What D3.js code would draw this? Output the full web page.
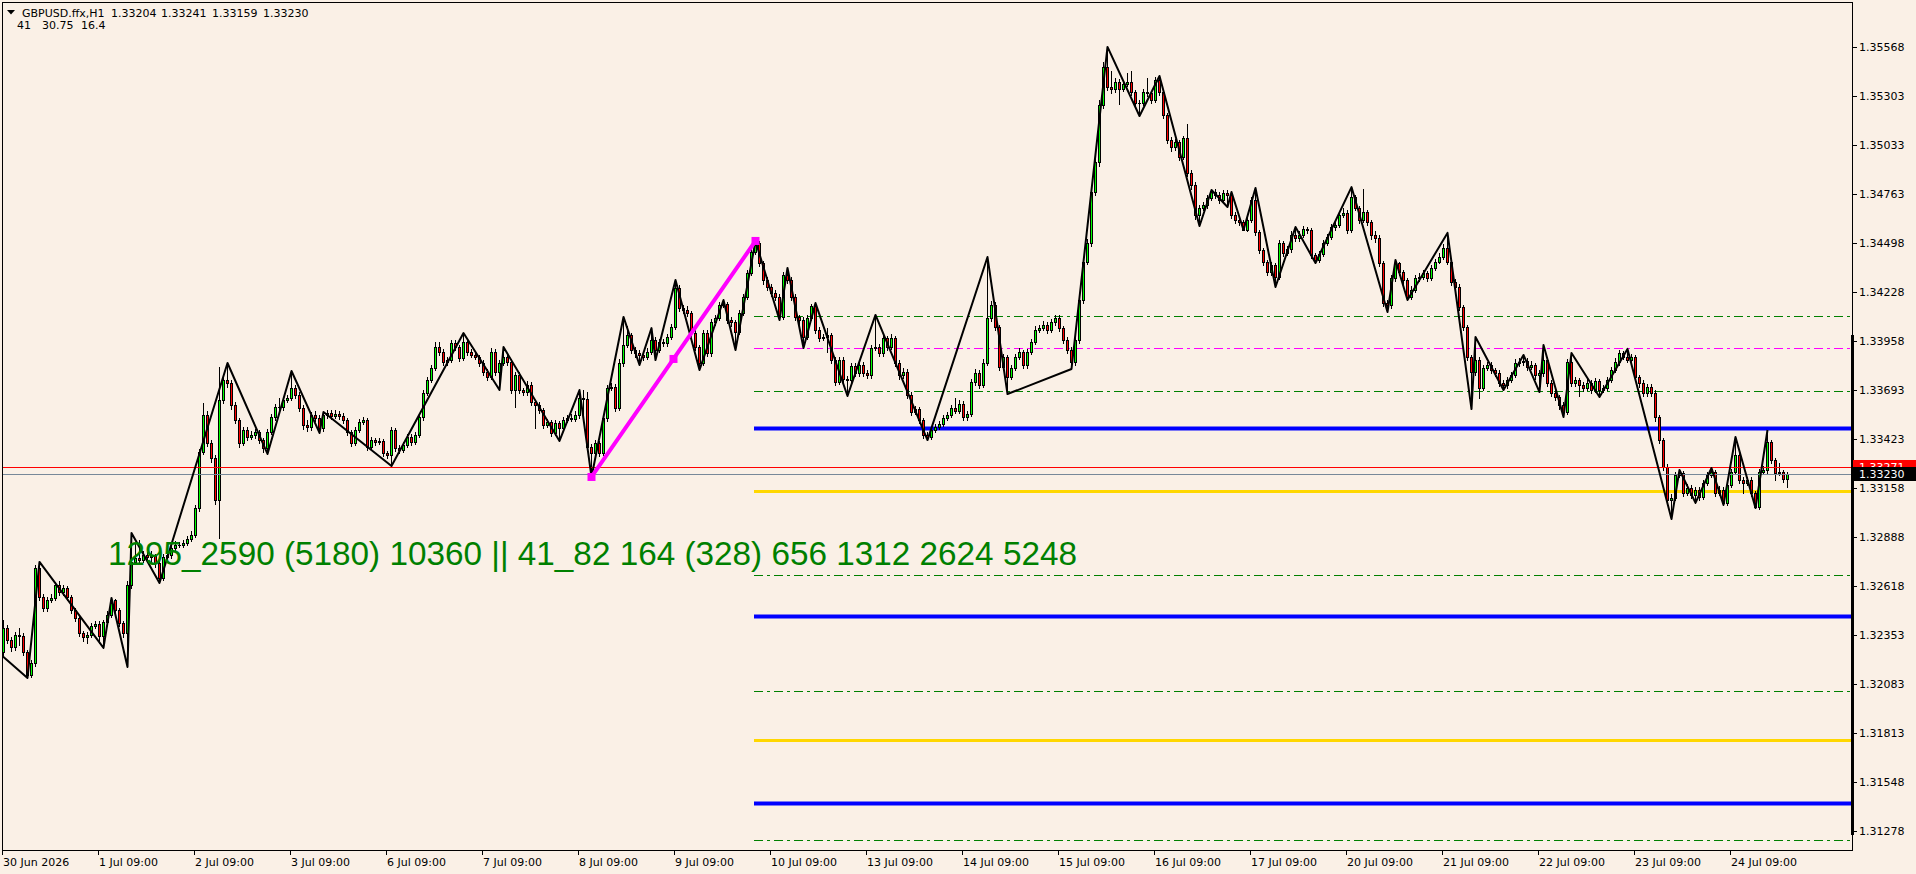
<!DOCTYPE html>
<html><head><meta charset="utf-8">
<script src="https://cdn.jsdelivr.net/npm/d3@7/dist/d3.min.js"></script>
<style>
html,body{margin:0;padding:0;background:#FAF0E6;overflow:hidden}
svg{display:block}
</style></head><body>
<svg id="c" width="1916" height="874"></svg>
<script>
// ---------------- DATA (GBPUSD.ffx, H1) ----------------
const close = [
1.32389,1.32324,1.32285,1.32351,1.32346,1.32258,1.32132,1.32198,1.32718,1.32559,1.32499,1.32543,
1.32554,1.32625,1.32586,1.32608,1.32559,1.32488,1.32444,1.32362,1.32340,1.32351,1.32400,1.32411,
1.32346,1.32422,1.32460,1.32543,1.32488,1.32417,1.32362,1.32625,1.32751,1.32772,1.32762,1.32789,
1.32778,1.32783,1.32745,1.32663,1.32778,1.32789,1.32827,1.32844,1.32844,1.32855,1.32876,1.32898,
1.33046,1.33353,1.33555,1.33402,1.33320,1.33090,1.33637,1.33747,1.33730,1.33610,1.33528,1.33402,
1.33473,1.33435,1.33446,1.33462,1.33418,1.33375,1.33462,1.33544,1.33599,1.33599,1.33637,1.33648,
1.33703,1.33665,1.33594,1.33500,1.33490,1.33555,1.33539,1.33484,1.33555,1.33566,1.33550,1.33561,
1.33550,1.33528,1.33462,1.33402,1.33473,1.33517,1.33528,1.33380,1.33418,1.33407,1.33413,1.33347,
1.33336,1.33473,1.33375,1.33364,1.33391,1.33435,1.33407,1.33446,1.33544,1.33676,1.33747,1.33813,
1.33927,1.33900,1.33845,1.33856,1.33949,1.33927,1.33867,1.33955,1.33900,1.33884,1.33873,1.33840,
1.33791,1.33763,1.33900,1.33791,1.33840,1.33873,1.33845,1.33692,1.33774,1.33692,1.33681,1.33720,
1.33626,1.33610,1.33583,1.33500,1.33517,1.33457,1.33511,1.33484,1.33528,1.33539,1.33533,1.33555,
1.33648,1.33643,1.33380,1.33347,1.33402,1.33347,1.33539,1.33703,1.33709,1.33594,1.33840,1.33938,
1.33993,1.33911,1.33895,1.33884,1.33873,1.33900,1.33966,1.33911,1.33955,1.33949,1.33982,1.34037,
1.34251,1.34141,1.34130,1.34114,1.34004,1.33927,1.33840,1.34004,1.33895,1.34064,1.34086,1.34157,
1.34163,1.34075,1.34064,1.34010,1.34114,1.34201,1.34333,1.34448,1.34497,1.34387,1.34294,1.34256,
1.34223,1.34201,1.34092,1.34322,1.34294,1.34201,1.34092,1.34075,1.33982,1.34086,1.34152,1.34021,
1.33977,1.33982,1.33993,1.33856,1.33736,1.33856,1.33752,1.33747,1.33824,1.33785,1.33829,1.33785,
1.33774,1.33922,1.33927,1.33895,1.33977,1.33927,1.33977,1.33840,1.33774,1.33791,1.33665,1.33572,
1.33588,1.33528,1.33446,1.33435,1.33473,1.33490,1.33506,1.33539,1.33555,1.33594,1.33577,1.33616,
1.33544,1.33561,1.33736,1.33785,1.33720,1.33840,1.34086,1.34157,1.34037,1.33818,1.33873,1.33763,
1.33813,1.33873,1.33900,1.33829,1.33900,1.33955,1.34021,1.34031,1.34048,1.34021,1.34064,1.34086,
1.34031,1.33966,1.33911,1.33845,1.33966,1.34185,1.34393,1.34497,1.34776,1.34940,1.35252,1.35460,
1.35351,1.35340,1.35378,1.35340,1.35367,1.35378,1.35323,1.35263,1.35263,1.35323,1.35318,1.35280,
1.35389,1.35323,1.35198,1.35061,1.35022,1.35050,1.34968,1.35072,1.34880,1.34814,1.34650,1.34688,
1.34705,1.34743,1.34776,1.34760,1.34732,1.34770,1.34760,1.34650,1.34623,1.34612,1.34568,1.34623,
1.34732,1.34557,1.34459,1.34393,1.34338,1.34376,1.34311,1.34497,1.34442,1.34464,1.34541,1.34524,
1.34541,1.34574,1.34568,1.34431,1.34404,1.34437,1.34497,1.34530,1.34584,1.34595,1.34650,1.34661,
1.34568,1.34749,1.34688,1.34623,1.34667,1.34612,1.34541,1.34524,1.34387,1.34168,1.34157,1.34305,
1.34387,1.34338,1.34294,1.34201,1.34240,1.34305,1.34311,1.34333,1.34305,1.34360,1.34393,1.34420,
1.34469,1.34393,1.34283,1.34256,1.34147,1.34037,1.33873,1.33791,1.33856,1.33703,1.33813,1.33829,
1.33802,1.33785,1.33730,1.33720,1.33747,1.33774,1.33840,1.33845,1.33851,1.33818,1.33829,1.33774,
1.33785,1.33856,1.33730,1.33676,1.33654,1.33610,1.33572,1.33845,1.33730,1.33747,1.33720,1.33703,
1.33730,1.33692,1.33741,1.33692,1.33703,1.33747,1.33802,1.33845,1.33895,1.33873,1.33856,1.33873,
1.33763,1.33730,1.33676,1.33709,1.33676,1.33544,1.33418,1.33271,1.33090,1.33101,1.33227,1.33238,
1.33128,1.33156,1.33117,1.33145,1.33106,1.33183,1.33227,1.33243,1.33128,1.33145,1.33074,1.33172,
1.33243,1.33336,1.33200,1.33183,1.33200,1.33128,1.33052,1.33243,1.33254,1.33407,1.33309,1.33238,
1.33243,1.33204,1.33230];

const open = [
1.32258,1.32389,1.32324,1.32285,1.32351,1.32346,1.32258,1.32132,1.32198,1.32718,1.32559,1.32499,
1.32543,1.32554,1.32625,1.32586,1.32608,1.32559,1.32488,1.32444,1.32362,1.32340,1.32351,1.32400,
1.32411,1.32346,1.32422,1.32460,1.32543,1.32488,1.32417,1.32362,1.32625,1.32751,1.32772,1.32762,
1.32789,1.32778,1.32783,1.32745,1.32663,1.32778,1.32789,1.32827,1.32844,1.32844,1.32855,1.32876,
1.32898,1.33046,1.33353,1.33555,1.33402,1.33320,1.33090,1.33637,1.33747,1.33730,1.33610,1.33528,
1.33402,1.33473,1.33435,1.33446,1.33462,1.33418,1.33375,1.33462,1.33544,1.33599,1.33599,1.33637,
1.33648,1.33703,1.33665,1.33594,1.33500,1.33490,1.33555,1.33539,1.33484,1.33555,1.33566,1.33550,
1.33561,1.33550,1.33528,1.33462,1.33402,1.33473,1.33517,1.33528,1.33380,1.33418,1.33407,1.33413,
1.33347,1.33336,1.33473,1.33375,1.33364,1.33391,1.33435,1.33407,1.33446,1.33544,1.33676,1.33747,
1.33813,1.33927,1.33900,1.33845,1.33856,1.33949,1.33927,1.33867,1.33955,1.33900,1.33884,1.33873,
1.33840,1.33791,1.33763,1.33900,1.33791,1.33840,1.33873,1.33845,1.33692,1.33774,1.33692,1.33681,
1.33720,1.33626,1.33610,1.33583,1.33500,1.33517,1.33457,1.33511,1.33484,1.33528,1.33539,1.33533,
1.33555,1.33648,1.33643,1.33380,1.33347,1.33402,1.33347,1.33539,1.33703,1.33709,1.33594,1.33840,
1.33938,1.33993,1.33911,1.33895,1.33884,1.33873,1.33900,1.33966,1.33911,1.33955,1.33949,1.33982,
1.34037,1.34251,1.34141,1.34130,1.34114,1.34004,1.33927,1.33840,1.34004,1.33895,1.34064,1.34086,
1.34157,1.34163,1.34075,1.34064,1.34010,1.34114,1.34201,1.34333,1.34448,1.34497,1.34387,1.34294,
1.34256,1.34223,1.34201,1.34092,1.34322,1.34294,1.34201,1.34092,1.34075,1.33982,1.34086,1.34152,
1.34021,1.33977,1.33982,1.33993,1.33856,1.33736,1.33856,1.33752,1.33747,1.33824,1.33785,1.33829,
1.33785,1.33774,1.33922,1.33927,1.33895,1.33977,1.33927,1.33977,1.33840,1.33774,1.33791,1.33665,
1.33572,1.33588,1.33528,1.33446,1.33435,1.33473,1.33490,1.33506,1.33539,1.33555,1.33594,1.33577,
1.33616,1.33544,1.33561,1.33736,1.33785,1.33720,1.33840,1.34086,1.34157,1.34037,1.33818,1.33873,
1.33763,1.33813,1.33873,1.33900,1.33829,1.33900,1.33955,1.34021,1.34031,1.34048,1.34021,1.34064,
1.34086,1.34031,1.33966,1.33911,1.33845,1.33966,1.34185,1.34393,1.34497,1.34776,1.34940,1.35252,
1.35460,1.35351,1.35340,1.35378,1.35340,1.35367,1.35378,1.35323,1.35263,1.35263,1.35323,1.35318,
1.35280,1.35389,1.35323,1.35198,1.35061,1.35022,1.35050,1.34968,1.35072,1.34880,1.34814,1.34650,
1.34688,1.34705,1.34743,1.34776,1.34760,1.34732,1.34770,1.34760,1.34650,1.34623,1.34612,1.34568,
1.34623,1.34732,1.34557,1.34459,1.34393,1.34338,1.34376,1.34311,1.34497,1.34442,1.34464,1.34541,
1.34524,1.34541,1.34574,1.34568,1.34431,1.34404,1.34437,1.34497,1.34530,1.34584,1.34595,1.34650,
1.34661,1.34568,1.34749,1.34688,1.34623,1.34667,1.34612,1.34541,1.34524,1.34387,1.34168,1.34157,
1.34305,1.34387,1.34338,1.34294,1.34201,1.34240,1.34305,1.34311,1.34333,1.34305,1.34360,1.34393,
1.34420,1.34469,1.34393,1.34283,1.34256,1.34147,1.34037,1.33873,1.33791,1.33856,1.33703,1.33813,
1.33829,1.33802,1.33785,1.33730,1.33720,1.33747,1.33774,1.33840,1.33845,1.33851,1.33818,1.33829,
1.33774,1.33785,1.33856,1.33730,1.33676,1.33654,1.33610,1.33572,1.33845,1.33730,1.33747,1.33720,
1.33703,1.33730,1.33692,1.33741,1.33692,1.33703,1.33747,1.33802,1.33845,1.33895,1.33873,1.33856,
1.33873,1.33763,1.33730,1.33676,1.33709,1.33676,1.33544,1.33418,1.33271,1.33090,1.33101,1.33227,
1.33238,1.33128,1.33156,1.33117,1.33145,1.33106,1.33183,1.33227,1.33243,1.33128,1.33145,1.33074,
1.33172,1.33243,1.33336,1.33200,1.33183,1.33200,1.33128,1.33052,1.33243,1.33254,1.33407,1.33309,
1.33238,1.33243,1.33204];

const high = [
1.32433,1.32405,1.32340,1.32370,1.32389,1.32362,1.32270,1.32215,1.32735,1.32751,1.32575,1.32560,
1.32575,1.32640,1.32645,1.32625,1.32620,1.32570,1.32500,1.32460,1.32375,1.32370,1.32415,1.32430,
1.32425,1.32435,1.32480,1.32554,1.32550,1.32500,1.32425,1.32645,1.32909,1.32850,1.32871,1.32810,
1.32805,1.32810,1.32795,1.32760,1.32795,1.32810,1.32845,1.32865,1.32860,1.32870,1.32895,1.32920,
1.33065,1.33370,1.33621,1.33575,1.33420,1.33335,1.33818,1.33780,1.33840,1.33745,1.33625,1.33540,
1.33490,1.33490,1.33470,1.33480,1.33475,1.33430,1.33480,1.33560,1.33615,1.33650,1.33655,1.33665,
1.33796,1.33720,1.33680,1.33610,1.33530,1.33570,1.33575,1.33555,1.33572,1.33585,1.33580,1.33580,
1.33575,1.33565,1.33540,1.33475,1.33490,1.33535,1.33545,1.33540,1.33435,1.33430,1.33430,1.33425,
1.33360,1.33490,1.33485,1.33390,1.33410,1.33450,1.33450,1.33460,1.33560,1.33690,1.33765,1.33830,
1.33955,1.33955,1.33915,1.33875,1.33965,1.33965,1.33940,1.34004,1.33970,1.33915,1.33900,1.33885,
1.33855,1.33805,1.33920,1.33915,1.33855,1.33927,1.33890,1.33860,1.33790,1.33790,1.33705,1.33740,
1.33735,1.33640,1.33625,1.33595,1.33535,1.33530,1.33530,1.33525,1.33545,1.33555,1.33560,1.33575,
1.33692,1.33692,1.33681,1.33395,1.33420,1.33415,1.33555,1.33720,1.33730,1.33725,1.33860,1.34092,
1.34040,1.34005,1.33925,1.33910,1.33900,1.33920,1.34031,1.33980,1.33970,1.33970,1.34000,1.34055,
1.34294,1.34265,1.34160,1.34150,1.34125,1.34020,1.33940,1.34020,1.34020,1.34080,1.34105,1.34175,
1.34185,1.34175,1.34090,1.34075,1.34130,1.34220,1.34350,1.34465,1.34508,1.34505,1.34400,1.34310,
1.34270,1.34240,1.34215,1.34340,1.34360,1.34310,1.34215,1.34105,1.34090,1.34100,1.34165,1.34168,
1.34035,1.34000,1.34030,1.34005,1.33870,1.33870,1.33870,1.33770,1.33840,1.33840,1.33845,1.33845,
1.33800,1.33940,1.34103,1.33945,1.33995,1.33990,1.34000,1.33990,1.33855,1.33810,1.33805,1.33680,
1.33605,1.33600,1.33540,1.33460,1.33490,1.33505,1.33525,1.33555,1.33570,1.33610,1.33650,1.33635,
1.33630,1.33575,1.33755,1.33805,1.33800,1.33860,1.34420,1.34180,1.34175,1.34050,1.33890,1.33885,
1.33830,1.33890,1.33920,1.33910,1.33915,1.33970,1.34040,1.34050,1.34070,1.34065,1.34080,1.34105,
1.34100,1.34045,1.33980,1.33925,1.33985,1.34205,1.34410,1.34520,1.34800,1.34970,1.35280,1.35490,
1.35570,1.35440,1.35400,1.35395,1.35385,1.35430,1.35440,1.35335,1.35280,1.35340,1.35400,1.35330,
1.35405,1.35411,1.35335,1.35210,1.35075,1.35065,1.35062,1.35085,1.35150,1.34895,1.34830,1.34705,
1.34720,1.34760,1.34787,1.34790,1.34775,1.34785,1.34785,1.34776,1.34665,1.34635,1.34625,1.34640,
1.34750,1.34798,1.34570,1.34470,1.34405,1.34395,1.34390,1.34515,1.34510,1.34480,1.34560,1.34584,
1.34560,1.34590,1.34585,1.34580,1.34440,1.34455,1.34515,1.34545,1.34600,1.34610,1.34665,1.34690,
1.34675,1.34803,1.34760,1.34700,1.34790,1.34680,1.34625,1.34560,1.34540,1.34400,1.34185,1.34320,
1.34404,1.34395,1.34350,1.34305,1.34260,1.34320,1.34330,1.34350,1.34345,1.34375,1.34410,1.34440,
1.34490,1.34552,1.34405,1.34300,1.34270,1.34160,1.34050,1.33885,1.33982,1.33870,1.33830,1.33845,
1.33845,1.33815,1.33800,1.33745,1.33765,1.33790,1.33860,1.33865,1.33884,1.33865,1.33850,1.33840,
1.33800,1.33938,1.33870,1.33745,1.33690,1.33665,1.33625,1.33860,1.33895,1.33765,1.33760,1.33735,
1.33750,1.33745,1.33760,1.33755,1.33720,1.33765,1.33820,1.33865,1.33910,1.33905,1.33917,1.33890,
1.33885,1.33775,1.33745,1.33725,1.33725,1.33690,1.33555,1.33430,1.33285,1.33125,1.33245,1.33254,
1.33250,1.33175,1.33170,1.33160,1.33160,1.33200,1.33245,1.33265,1.33255,1.33165,1.33160,1.33190,
1.33260,1.33435,1.33350,1.33215,1.33215,1.33215,1.33140,1.33260,1.33275,1.33473,1.33420,1.33320,
1.33290,1.33255,1.33241];

const low = [
1.32231,1.32308,1.32265,1.32270,1.32296,1.32240,1.32116,1.32120,1.32181,1.32540,1.32480,1.32485,
1.32530,1.32540,1.32570,1.32570,1.32545,1.32470,1.32425,1.32345,1.32320,1.32307,1.32340,1.32390,
1.32307,1.32280,1.32410,1.32450,1.32470,1.32400,1.32340,1.32176,1.32610,1.32740,1.32745,1.32750,
1.32760,1.32755,1.32725,1.32636,1.32650,1.32765,1.32775,1.32815,1.32830,1.32835,1.32845,1.32865,
1.32885,1.33030,1.33340,1.33385,1.33300,1.33070,1.32882,1.33620,1.33710,1.33590,1.33510,1.33380,
1.33390,1.33420,1.33425,1.33430,1.33400,1.33355,1.33342,1.33450,1.33530,1.33585,1.33585,1.33625,
1.33635,1.33650,1.33575,1.33480,1.33470,1.33475,1.33520,1.33457,1.33470,1.33540,1.33535,1.33540,
1.33535,1.33510,1.33445,1.33385,1.33390,1.33460,1.33505,1.33365,1.33365,1.33390,1.33395,1.33330,
1.33320,1.33276,1.33360,1.33345,1.33350,1.33380,1.33390,1.33395,1.33435,1.33530,1.33665,1.33735,
1.33800,1.33885,1.33830,1.33830,1.33845,1.33910,1.33850,1.33855,1.33885,1.33870,1.33860,1.33825,
1.33775,1.33745,1.33750,1.33775,1.33692,1.33830,1.33830,1.33675,1.33599,1.33675,1.33665,1.33665,
1.33610,1.33484,1.33565,1.33485,1.33490,1.33440,1.33445,1.33413,1.33470,1.33515,1.33520,1.33520,
1.33540,1.33544,1.33365,1.33216,1.33330,1.33330,1.33335,1.33525,1.33690,1.33575,1.33580,1.33825,
1.33925,1.33895,1.33875,1.33829,1.33855,1.33860,1.33890,1.33856,1.33900,1.33935,1.33935,1.33970,
1.34025,1.34125,1.34115,1.34095,1.33985,1.33910,1.33802,1.33830,1.33880,1.33880,1.34050,1.34075,
1.34145,1.34060,1.34045,1.33911,1.34000,1.34100,1.34190,1.34320,1.34435,1.34370,1.34275,1.34240,
1.34205,1.34185,1.34075,1.34080,1.34280,1.34185,1.34075,1.34055,1.33922,1.33970,1.34075,1.34005,
1.33960,1.33965,1.33900,1.33840,1.33720,1.33725,1.33735,1.33659,1.33735,1.33770,1.33770,1.33770,
1.33760,1.33760,1.33910,1.33880,1.33880,1.33910,1.33915,1.33825,1.33755,1.33760,1.33650,1.33555,
1.33560,1.33510,1.33430,1.33418,1.33425,1.33460,1.33480,1.33495,1.33530,1.33545,1.33565,1.33565,
1.33530,1.33530,1.33550,1.33720,1.33705,1.33710,1.33830,1.34070,1.34020,1.33800,1.33805,1.33670,
1.33750,1.33800,1.33860,1.33815,1.33815,1.33890,1.33945,1.34010,1.34020,1.34005,1.34010,1.34050,
1.34015,1.33950,1.33895,1.33807,1.33830,1.33950,1.34170,1.34380,1.34480,1.34760,1.34920,1.35235,
1.35335,1.35320,1.35325,1.35255,1.35330,1.35355,1.35305,1.35245,1.35192,1.35250,1.35300,1.35265,
1.35270,1.35305,1.35180,1.35045,1.35000,1.35005,1.34950,1.34955,1.34865,1.34795,1.34630,1.34590,
1.34675,1.34690,1.34730,1.34745,1.34715,1.34720,1.34694,1.34635,1.34605,1.34595,1.34568,1.34560,
1.34610,1.34540,1.34440,1.34375,1.34320,1.34320,1.34256,1.34300,1.34425,1.34430,1.34450,1.34510,
1.34510,1.34530,1.34550,1.34415,1.34387,1.34395,1.34425,1.34485,1.34520,1.34570,1.34585,1.34640,
1.34550,1.34555,1.34675,1.34605,1.34610,1.34595,1.34520,1.34500,1.34370,1.34150,1.34119,1.34140,
1.34290,1.34320,1.34275,1.34185,1.34190,1.34230,1.34290,1.34300,1.34290,1.34295,1.34350,1.34385,
1.34410,1.34380,1.34265,1.34240,1.34130,1.34020,1.33855,1.33588,1.33775,1.33650,1.33690,1.33800,
1.33785,1.33770,1.33715,1.33692,1.33705,1.33735,1.33765,1.33825,1.33830,1.33800,1.33805,1.33755,
1.33681,1.33770,1.33715,1.33660,1.33635,1.33590,1.33544,1.33560,1.33715,1.33715,1.33660,1.33685,
1.33690,1.33675,1.33680,1.33654,1.33680,1.33690,1.33735,1.33790,1.33830,1.33860,1.33845,1.33840,
1.33745,1.33710,1.33660,1.33660,1.33660,1.33525,1.33400,1.33255,1.33070,1.32986,1.33090,1.33215,
1.33110,1.33115,1.33100,1.33074,1.33090,1.33095,1.33170,1.33215,1.33110,1.33115,1.33063,1.33060,
1.33160,1.33230,1.33185,1.33128,1.33170,1.33110,1.33046,1.33040,1.33235,1.33240,1.33295,1.33200,
1.33225,1.33190,1.33159];

// ZigZag indicator vertices (bar index, price)
const zzBar = [0,6,9,25,27,31,32,39,56,66,72,79,80,97,115,124,125,139,144,147,155,159,162,163,168,174,180,183,188,194,196,200,203,211,218,231,246,251,267,276,284,289,299,302,306,307,310,313,318,323,328,337,346,348,351,361,367,368,375,380,384,385,390,392,399,406,417,419,423,427,430,433,438,441];
const zzPrice = [1.32231,1.32116,1.32751,1.32280,1.32554,1.32176,1.32909,1.32636,1.33840,1.33342,1.33796,1.33457,1.33572,1.33276,1.34004,1.33692,1.33927,1.33413,1.33692,1.33216,1.34092,1.33829,1.34031,1.33856,1.34294,1.33802,1.34185,1.33911,1.34508,1.34075,1.34360,1.33922,1.34168,1.33659,1.34103,1.33418,1.34420,1.33670,1.33807,1.35570,1.35192,1.35411,1.34590,1.34787,1.34694,1.34776,1.34568,1.34798,1.34256,1.34584,1.34387,1.34803,1.34119,1.34404,1.34185,1.34552,1.33588,1.33982,1.33692,1.33884,1.33681,1.33938,1.33544,1.33895,1.33654,1.33917,1.32986,1.33254,1.33074,1.33265,1.33063,1.33435,1.33046,1.33473];

// magenta swing line (start, mid, end)
const swingBar = [147, 167.5, 188];
const swingPrice = [1.33216, 1.33862, 1.34508];

// projected horizontal levels, drawn from bar 188 to the right edge
const levelStartBar = 188;
const levelPrice = [1.34097,1.33920,1.33687,1.33485,1.33138,1.32682,1.32457,1.32046,1.31777,1.31434,1.31229];
const levelType  = ["g","m","g","b","y","g","b","g","y","b","g"];

const askPrice = 1.33271, bidPrice = 1.33230;
const axisBarRange = [1.31256, 1.33993];

const priceTicks = [1.35568,1.35303,1.35033,1.34763,1.34498,1.34228,1.33958,1.33693,1.33423,1.33158,1.32888,1.32618,1.32353,1.32083,1.31813,1.31548,1.31278];
const dateLabels = ["30 Jun 2026","1 Jul 09:00","2 Jul 09:00","3 Jul 09:00","6 Jul 09:00","7 Jul 09:00","8 Jul 09:00","9 Jul 09:00","10 Jul 09:00","13 Jul 09:00","14 Jul 09:00","15 Jul 09:00","16 Jul 09:00","17 Jul 09:00","20 Jul 09:00","21 Jul 09:00","22 Jul 09:00","23 Jul 09:00","24 Jul 09:00"];
const dateBars = [0,24,48,72,96,120,144,168,192,216,240,264,288,312,336,360,384,408,432];

const symbol = "GBPUSD.ffx,H1";
const headerOHLC = ["1.33204","1.33241","1.33159","1.33230"];
const indicatorValues = ["41","30.75","16.4"];
const infoText = "1295_2590 (5180) 10360 || 41_82 164 (328) 656 1312 2624 5248";

// ---------------- DRAW ----------------
const L = 2, R = 1852, T = 2, B = 850;
const N = close.length;
const svg = d3.select("#c");
const x = d3.scaleLinear().domain([0, N]).range([L, L + 4 * N]);
const y = d3.scaleLinear().domain([1.31174, 1.35816]).range([B, T]);
const py = v => Math.round(y(v));

svg.append("rect").attr("width",1916).attr("height",874).attr("fill","#FAF0E6");
const defs = svg.append("defs");
defs.append("clipPath").attr("id","plot").append("rect")
  .attr("x",L).attr("y",T).attr("width",R-L).attr("height",B-T);
const plot = svg.append("g").attr("clip-path","url(#plot)");

// levels
const lvStyle = {
  g:{c:"#008000",w:1,d:"9,4,3,4"},
  m:{c:"#FF00FF",w:1,d:"9,4,3,4"},
  b:{c:"#0000FF",w:4,d:null},
  y:{c:"#FFD700",w:3,d:null}
};
plot.selectAll("line.lv").data(levelPrice).join("line").attr("class","lv")
  .attr("x1",x(levelStartBar)).attr("x2",R)
  .attr("y1",(d)=>py(d)+0.5).attr("y2",(d)=>py(d)+0.5)
  .attr("stroke",(d,i)=>lvStyle[levelType[i]].c)
  .attr("stroke-width",(d,i)=>lvStyle[levelType[i]].w)
  .attr("stroke-dasharray",(d,i)=>lvStyle[levelType[i]].d);

// candles
const idx = d3.range(N);
const cg = plot.append("g").attr("shape-rendering","crispEdges");
cg.selectAll("rect.w").data(idx).join("rect").attr("class","w")
  .attr("x",i=>x(i)+1).attr("width",1)
  .attr("y",i=>py(high[i])).attr("height",i=>Math.max(1,py(low[i])-py(high[i])+1))
  .attr("fill","#000");
cg.selectAll("rect.b").data(idx).join("rect").attr("class","b")
  .attr("x",i=>x(i)).attr("width",3)
  .attr("y",i=>py(Math.max(open[i],close[i])))
  .attr("height",i=>Math.max(1,py(Math.min(open[i],close[i]))-py(Math.max(open[i],close[i]))+1))
  .attr("fill","#000");
cg.selectAll("rect.f").data(idx.filter(i=>py(Math.min(open[i],close[i]))-py(Math.max(open[i],close[i]))>=2))
  .join("rect").attr("class","f")
  .attr("x",i=>x(i)+1).attr("width",1)
  .attr("y",i=>py(Math.max(open[i],close[i]))+1)
  .attr("height",i=>py(Math.min(open[i],close[i]))-py(Math.max(open[i],close[i]))-1)
  .attr("fill",i=>close[i]>=open[i]?"#00FF00":"#FF0000");

// bid / ask lines
plot.append("line").attr("x1",L).attr("x2",R).attr("y1",py(askPrice)+0.5).attr("y2",py(askPrice)+0.5)
  .attr("stroke","#FF0000").attr("stroke-width",1);
plot.append("line").attr("x1",L).attr("x2",R).attr("y1",py(bidPrice)+0.5).attr("y2",py(bidPrice)+0.5)
  .attr("stroke","#778899").attr("stroke-width",1);

// zigzag
const zz = zzBar.map((b,i)=>({b, p:zzPrice[i]}));
plot.append("path").datum(zz)
  .attr("d", d3.line().x(d=>x(d.b)+1.5).y(d=>y(d.p)))
  .attr("fill","none").attr("stroke","#000").attr("stroke-width",2).attr("stroke-linejoin","round");

// magenta swing
const sw = swingBar.map((b,i)=>({b, p:swingPrice[i]}));
plot.append("path").datum(sw)
  .attr("d", d3.line().x(d=>x(d.b)+1.5).y(d=>y(d.p)))
  .attr("fill","none").attr("stroke","#FF00FF").attr("stroke-width",4);
plot.selectAll("rect.sq").data(sw).join("rect").attr("class","sq")
  .attr("x",d=>x(d.b)+1.5-4).attr("y",d=>y(d.p)-4).attr("width",8).attr("height",8)
  .attr("fill","#FF00FF");

// info text
svg.append("text").attr("x",108).attr("y",565)
  .attr("font-family","'Liberation Sans', Arial, sans-serif").attr("font-size",33.3)
  .attr("fill","#008000").text(infoText);

// frame
svg.append("rect").attr("x",L+0.5).attr("y",T+0.5).attr("width",R-L).attr("height",B-T)
  .attr("fill","none").attr("stroke","#000").attr("stroke-width",1);

// right axis
const font = "'DejaVu Sans', Verdana, sans-serif";
const ax = svg.append("g");
ax.selectAll("line.pt").data(priceTicks).join("line").attr("class","pt")
  .attr("x1",R).attr("x2",R+5).attr("y1",d=>py(d)+0.5).attr("y2",d=>py(d)+0.5)
  .attr("stroke","#000");
ax.selectAll("text.pt").data(priceTicks).join("text").attr("class","pt")
  .attr("x",R+7).attr("y",d=>py(d)+4).attr("font-family",font).attr("font-size",11)
  .attr("fill","#000").text(d=>d.toFixed(5));
// axis range bar
ax.append("rect").attr("x",R-1).attr("width",3)
  .attr("y",py(axisBarRange[1])).attr("height",py(axisBarRange[0])-py(axisBarRange[1]))
  .attr("fill","#000");
// ask label: only its upper part shows above the bid label (as in the terminal)
const askTop = py(askPrice)-7, bidTop = py(bidPrice)-7;
defs.append("clipPath").attr("id","askclip").append("rect")
  .attr("x",R+1).attr("y",askTop).attr("width",1916-R).attr("height",bidTop-askTop);
const askG = ax.append("g").attr("clip-path","url(#askclip)");
askG.append("rect").attr("x",R+1).attr("y",askTop).attr("width",1916-R).attr("height",14).attr("fill","#FF0000");
askG.append("text").attr("x",R+7).attr("y",py(askPrice)+4).attr("font-family",font).attr("font-size",11)
  .attr("fill","#FFFFFF").text(askPrice.toFixed(5));
ax.append("rect").attr("x",R+1).attr("y",bidTop).attr("width",1916-R).attr("height",14).attr("fill","#000");
ax.append("text").attr("x",R+7).attr("y",py(bidPrice)+4).attr("font-family",font).attr("font-size",11)
  .attr("fill","#FFFFFF").text(bidPrice.toFixed(5));

// bottom axis
ax.selectAll("line.dt").data(dateBars).join("line").attr("class","dt")
  .attr("x1",b=>x(b)+0.5).attr("x2",b=>x(b)+0.5).attr("y1",B).attr("y2",B+5).attr("stroke","#000");
ax.selectAll("text.dt").data(dateBars).join("text").attr("class","dt")
  .attr("x",b=>x(b)+1).attr("y",866).attr("font-family",font).attr("font-size",11)
  .attr("fill","#000").text((b,i)=>dateLabels[i]);

// header
svg.append("path").attr("d","M7,10H15L11,14.5Z").attr("fill","#000");
svg.append("text").attr("x",22).attr("y",17).attr("font-family",font).attr("font-size",11).text(symbol);
const hx = [111,161,212,263];
headerOHLC.forEach((t,i)=>svg.append("text").attr("x",hx[i]).attr("y",17).attr("font-family",font).attr("font-size",11).text(t));
const ix = [17,42,81];
indicatorValues.forEach((t,i)=>svg.append("text").attr("x",ix[i]).attr("y",29).attr("font-family",font).attr("font-size",11).text(t));
</script>
</body></html>
